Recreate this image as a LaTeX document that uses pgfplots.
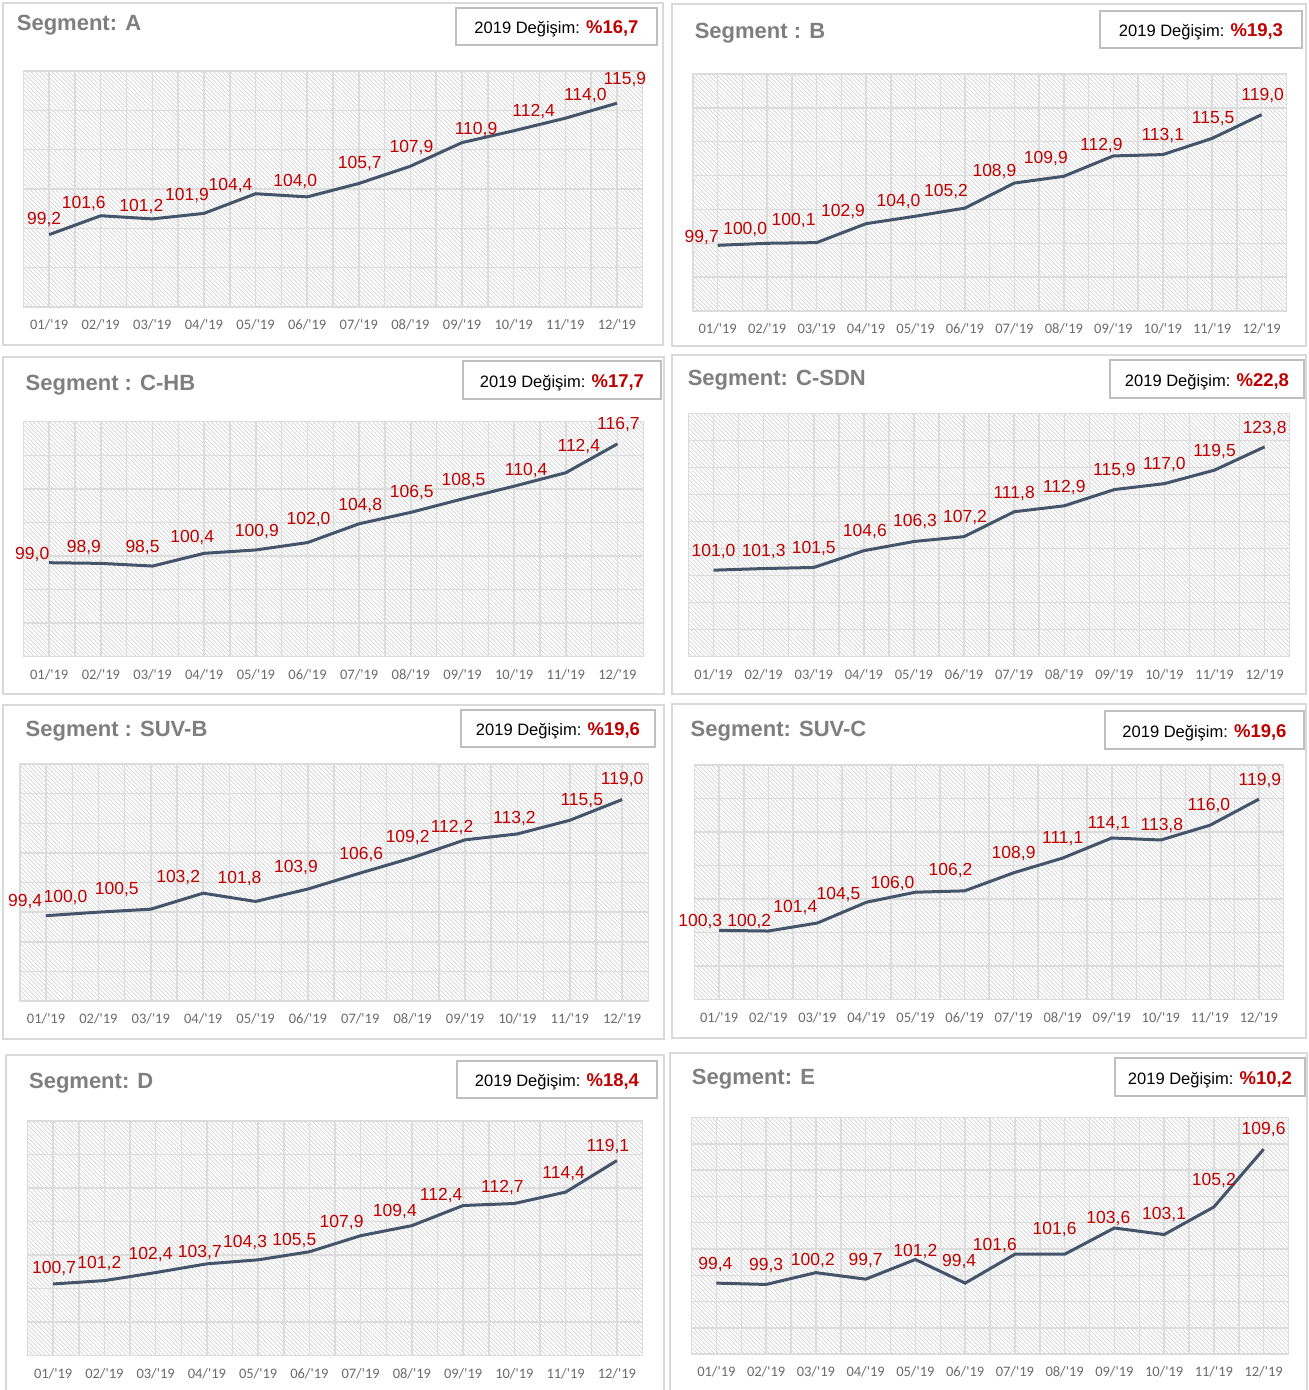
\documentclass[border=0pt]{standalone}
\usepackage{pgfplots}
\pgfplotsset{compat=1.18}
\usepackage{pgfplotstable}
\usepackage{fontspec}
\setmainfont{Liberation Sans}
\newfontfamily\ticksfont[Ligatures=TeXOff]{Carlito}
\usetikzlibrary{patterns.meta}

\definecolor{linec}{HTML}{44546A}
\definecolor{labc}{HTML}{C00000}
\definecolor{gridc}{HTML}{DCDCDC}
\definecolor{hatchc}{HTML}{D2D2D2}
\definecolor{framec}{HTML}{D9D9D9}
\definecolor{boxc}{HTML}{BFBFBF}
\definecolor{titlec}{HTML}{7F7F7F}
\definecolor{tickc}{HTML}{6B6B6B}

\pgfkeys{/pgf/number format/.cd,fixed,fixed zerofill,precision=1,use comma,assume math mode=true}

\pgfplotsset{
  panel/.style={
    scale only axis, anchor=south west, clip=false,
    xmin=0.5, xmax=12.5,
    xtick={1,...,12}, minor xtick={0.5,1.5,...,12.5},
    xticklabels={01/'19,02/'19,03/'19,04/'19,05/'19,06/'19,07/'19,08/'19,09/'19,10/'19,11/'19,12/'19},
    yticklabels={},
    grid=both,
    major tick length=0pt, minor tick length=0pt,
    axis line style={draw=gridc, line width=1.5pt},
    grid style={draw=gridc, line width=1.5pt},
    minor grid style={draw=gridc, line width=1.5pt},
    axis background/.style={pattern={Lines[angle=-45,distance=3pt,line width=0.7pt]}, pattern color=hatchc},
    xticklabel style={font=\ticksfont\fontsize{14.5}{16}\selectfont, text=tickc, anchor=center, yshift=-18pt},
  },
  dataline/.style={
    linec, line width=3pt, no markers,
    nodes near coords, point meta=y,
    visualization depends on={\thisrow{dx}\as\ldx},
    visualization depends on={\thisrow{dy}-6.3\as\ldy},
    every node near coord/.append style={anchor=base, inner sep=0pt, text=labc,
      font=\fontsize{17.5}{20}\selectfont, xshift=\ldx*1pt, yshift=\ldy*1pt},
  },
}

\newcommand\frametitle[7]{%
  \draw[framec,line width=2pt] (#1pt,-#2pt) rectangle (#3pt,-#4pt);
  \node[anchor=base west,inner sep=0pt,text=titlec,font=\fontsize{22}{26}\selectfont\bfseries] at (#5pt,-#6pt) {#7};}
\newcommand\chgbox[5]{%
  \draw[boxc,line width=1.5pt] (#1pt,-#2pt) rectangle (#3pt,-#4pt);
  \node[anchor=base,inner sep=0pt] at ({(#1+#3)/2*1pt},{-((#2+#4)/2+7)*1pt})
    {\fontsize{16.5}{20}\selectfont 2019 Değişim: \textcolor{labc}{\fontsize{18.5}{22}\selectfont\bfseries\%#5}};}
\newcommand\panelaxis[8]{%
  \begin{axis}[panel, at={(#1pt,-#2pt)}, width=#3pt, height=#4pt, ymin=#5, ymax=#6, ytick distance=#7]
    \addplot[dataline] table[x=x,y=y]{#8};
  \end{axis}}

\pgfplotstableread{
x y dx dy
1 99.2 -5 16
2 101.6 -17 14
3 101.2 -11 14
4 101.9 -17 19
5 104.4 -25 10
6 104.0 -12 17
7 105.7 1 21
8 107.9 1 20
9 110.9 14 14
10 112.4 20 21
11 114.0 20 24
12 115.9 8 25
}\dataA
\pgfplotstableread{
x y dx dy
1 99.7 -16 9
2 100.0 -22 15
3 100.1 -23 23
4 102.9 -23 13
5 104.0 -17 16
6 105.2 -19 18
7 108.9 -20 13
8 109.9 -18 19
9 112.9 -12 12
10 113.1 0 20
11 115.5 1 21
12 119.0 1 20
}\dataB
\pgfplotstableread{
x y dx dy
1 99.0 -17 10
2 98.9 -17 17
3 98.5 -10 20
4 100.4 -12 17
5 100.9 1 20
6 102.0 1 24
7 104.8 1 20
8 106.5 1 21
9 108.5 1 20
10 110.4 12 17
11 112.4 13 28
12 116.7 1 21
}\dataCHB
\pgfplotstableread{
x y dx dy
1 101.0 0 20
2 101.3 0 18
3 101.5 0 20
4 104.6 1 20
5 106.3 1 21
6 107.2 1 20
7 111.8 0 20
8 112.9 0 20
9 115.9 0 20
10 117.0 0 20
11 119.5 0 20
12 123.8 0 20
}\dataCSDN
\pgfplotstableread{
x y dx dy
1 99.4 -21 15
2 100.0 -33 16
3 100.5 -34 21
4 103.2 -25 17
5 101.8 -16 24
6 103.9 -12 23
7 106.6 1 20
8 109.2 -5 21
9 112.2 -13 14
10 113.2 -3 17
11 115.5 12 21
12 119.0 0 21
}\dataSUVB
\pgfplotstableread{
x y dx dy
1 100.3 -19 10
2 100.2 -19 11
3 101.4 -22 17
4 104.5 -28 9
5 106.0 -23 10
6 106.2 -14 22
7 108.9 0 21
8 111.1 0 21
9 114.1 -3 16
10 113.8 1 16
11 116.0 -1 21
12 119.9 1 20
}\dataSUVC
\pgfplotstableread{
x y dx dy
1 100.7 1 17
2 101.2 -5 18
3 102.4 -5 19
4 103.7 -7 13
5 104.3 -13 19
6 105.5 -15 13
7 107.9 -19 14
8 109.4 -17 15
9 112.4 -22 11
10 112.7 -12 17
11 114.4 -2 20
12 119.1 -9 15
}\dataD
\pgfplotstableread{
x y dx dy
1 99.4 -1 20
2 99.3 0 20
3 100.2 -3 13
4 99.7 0 20
5 101.2 0 9
6 99.4 -6 23
7 101.6 -20 10
8 101.6 -10 26
9 103.6 -6 11
10 103.1 0 21
11 105.2 0 28
12 109.6 0 21
}\dataE

\begin{document}
\begin{tikzpicture}
\path[use as bounding box] (0pt,0pt) rectangle (1309pt,-1390pt);
\fill[white] (0pt,0pt) rectangle (1309pt,-1390pt);

\frametitle{3}{3}{663}{345}{16.7}{30}{Segment: A}
\chgbox{456}{8}{657}{45}{16,7}
\frametitle{672}{4}{1306}{346}{694.6}{38.3}{Segment : B}
\chgbox{1100}{11}{1302}{48}{19,3}
\frametitle{3}{357}{664}{694}{25.5}{390}{Segment : C-HB}
\chgbox{463}{361}{661}{399}{17,7}
\frametitle{672}{355}{1306}{694}{687.6}{385}{Segment: C-SDN}
\chgbox{1110}{360}{1304}{398}{22,8}
\frametitle{3}{705}{664}{1039}{25.5}{736}{Segment : SUV-B}
\chgbox{461}{710}{655}{747}{19,6}
\frametitle{672}{704}{1306}{1038}{690.5}{736}{Segment: SUV-C}
\chgbox{1105}{711}{1304}{749}{19,6}
\frametitle{6}{1055}{664}{1400}{28.9}{1088.3}{Segment: D}
\chgbox{457}{1061}{657}{1098}{18,4}
\frametitle{670}{1053}{1307}{1400}{691.7}{1084.3}{Segment: E}
\chgbox{1115}{1058}{1305}{1096}{10,2}

\panelaxis{23.3}{307}{619.4}{236}{90}{120}{5}{\dataA}
\panelaxis{693}{311}{593.4}{237}{90}{125}{5}{\dataB}
\panelaxis{23.4}{656.7}{619.9}{235}{85}{120}{5}{\dataCHB}
\panelaxis{688.5}{656.7}{601.2}{243.4}{85}{130}{5}{\dataCSDN}
\panelaxis{19.9}{1001}{628.4}{237}{85}{125}{5}{\dataSUVB}
\panelaxis{694.7}{999.3}{588.8}{234.3}{90}{125}{5}{\dataSUVC}
\panelaxis{27.5}{1355.7}{615}{234.7}{90}{125}{5}{\dataD}
\panelaxis{691.5}{1354}{597}{236.3}{94}{112}{2}{\dataE}
\end{tikzpicture}
\end{document}
